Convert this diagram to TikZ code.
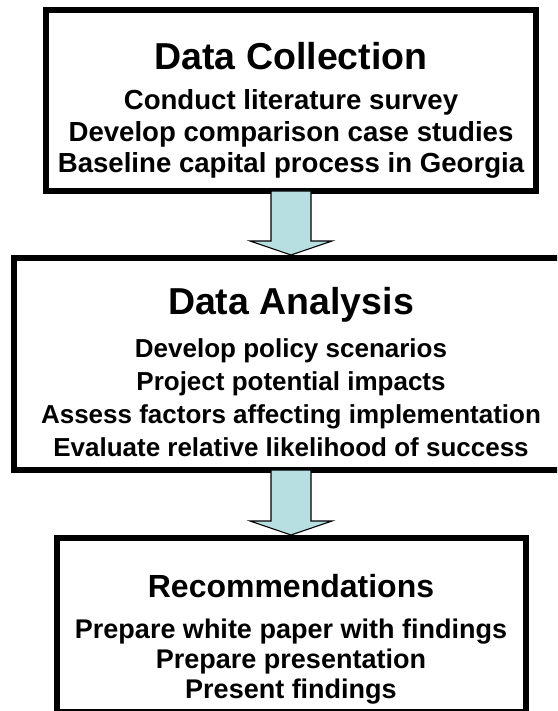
\documentclass[tikz,border=0pt]{standalone}
\usepackage{fontspec}
\setmainfont{Liberation Sans}
\usetikzlibrary{positioning,calc}
\definecolor{arrowFill}{RGB}{183,222,224}
\tikzset{
  stageBox/.style={rectangle, draw, line width=6pt, fill=white, inner sep=0pt},
  stageTitle/.style={font=\fontsize{#1}{#1}\selectfont\bfseries, inner sep=0pt, anchor=base},
  stageTitle/.default=37.5,
  % list of tasks, placed by the baseline of its last line
  stageList/.style 2 args={font=\fontsize{#1}{#2}\selectfont\bfseries, align=center, inner sep=0pt, anchor=base},
  flowArrow/.style={draw, line width=1.1pt, fill=arrowFill, line join=miter}
}
% block arrow from the bottom of one box to the top of the next
\newcommand{\stageArrow}[2]{
  \draw[flowArrow] ($(#1.south)+(-20,-3)$) -- ($(#2.north)+(-20,-14)$)
    -- ($(#2.north)+(-41,-14)$) -- (#2.north) -- ($(#2.north)+(41,-14)$)
    -- ($(#2.north)+(20,-14)$) -- ($(#1.south)+(20,-3)$) -- cycle;
}

\begin{document}
\begin{tikzpicture}[x=1pt, y=-1pt]
  \clip (0,0) rectangle (557,711);
  \fill[white] (0,0) rectangle (557,711);

  % the three stages
  \node[stageBox, minimum width=490pt, minimum height=181pt] (collect) at (291,100.5) {};
  \node[stageBox, minimum width=555pt, minimum height=212pt] (analysis) at (291,364) {};
  \node[stageBox, minimum width=469pt, minimum height=174pt] (recommend) at (291,625) {};

  \node[stageTitle] (collectTitle) at ($(collect.north)+(0,63)$) {Data Collection};
  \node[stageList={27.6}{31.5}] (collectList) at ($(collect.north)+(0,166)$)
    {Conduct literature survey\\Develop comparison case studies\\Baseline capital process in Georgia};

  \node[stageTitle] (analysisTitle) at ($(analysis.north)+(0,59)$) {Data Analysis};
  \node[stageList={26}{33}] (analysisList) at ($(analysis.north)+(0,201)$)
    {Develop policy scenarios\\Project potential impacts\\Assess factors affecting implementation\\Evaluate relative likelihood of success};

  \node[stageTitle=32] (recommendTitle) at ($(recommend.north)+(0,62)$) {Recommendations};
  \node[stageList={27}{30}] (recommendList) at ($(recommend.north)+(0,163)$)
    {Prepare white paper with findings\\Prepare presentation\\Present findings};

  % arrows between the stages
  \stageArrow{collect}{analysis}
  \stageArrow{analysis}{recommend}
\end{tikzpicture}
\end{document}
